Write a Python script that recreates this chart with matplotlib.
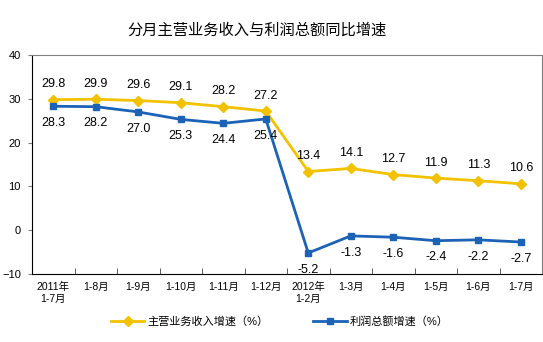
import matplotlib
matplotlib.use("Agg")
import matplotlib.pyplot as plt
import numpy as np

plt.rcParams['font.family'] = ['Liberation Sans', 'Noto Sans CJK SC', 'DejaVu Sans']

months = ["2011年\n1-7月", "1-8月", "1-9月", "1-10月", "1-11月", "1-12月",
          "2012年\n1-2月", "1-3月", "1-4月", "1-5月", "1-6月", "1-7月"]
revenue = [29.8, 29.9, 29.6, 29.1, 28.2, 27.2, 13.4, 14.1, 12.7, 11.9, 11.3, 10.6]
profit = [28.3, 28.2, 27.0, 25.3, 24.4, 25.4, -5.2, -1.3, -1.6, -2.4, -2.2, -2.7]

yellow = "#F2C200"
blue = "#1C63B7"

fig = plt.figure(figsize=(5.43, 3.42), dpi=100)
ax = fig.add_axes([32/543, 1 - 274/342, 510/543, 219/342])

x = np.arange(len(months))
ax.plot(x, revenue, color=yellow, lw=2, marker="D", ms=5, label="主营业务收入增速（%）")
ax.plot(x, profit, color=blue, lw=2, marker="s", ms=5, label="利润总额增速（%）")

for i in x:
    ax.annotate(f"{revenue[i]:.1f}", (i, revenue[i]), xytext=(0, 11), textcoords="offset points",
                ha="center", va="center", fontsize=9)
    ax.annotate(f"{profit[i]:.1f}", (i, profit[i]), xytext=(0, -12), textcoords="offset points",
                ha="center", va="center", fontsize=9)

ax.set_xlim(-0.5, len(months) - 0.5)
ax.set_ylim(-10, 40)
ax.set_yticks([-10, 0, 10, 20, 30, 40])
ax.tick_params(axis="y", labelsize=8, length=3, color="#808080", pad=5)
ax.set_xticks(x)
ax.set_xticklabels(months, fontsize=7.5)
ax.set_xticks(np.arange(len(months) + 1) - 0.5, minor=True)
ax.tick_params(axis="x", which="major", length=0, pad=6)
ax.tick_params(axis="x", which="minor", length=4, direction="in", color="#404040")
for s in ax.spines.values():
    s.set_color("#808080")
ax.spines["bottom"].set_color("#000000")
ax.spines["left"].set_color("#000000")

fig.text(257/543, 1 - 30/342, "分月主营业务收入与利润总额同比增速", ha="center", va="center", fontsize=11)

fig.legend(loc="center", bbox_to_anchor=(280/543, 1 - 321/342), ncol=2, frameon=False,
           fontsize=8, handlelength=3, columnspacing=4, handletextpad=0.3)

fig.savefig("out.png", dpi=100)
